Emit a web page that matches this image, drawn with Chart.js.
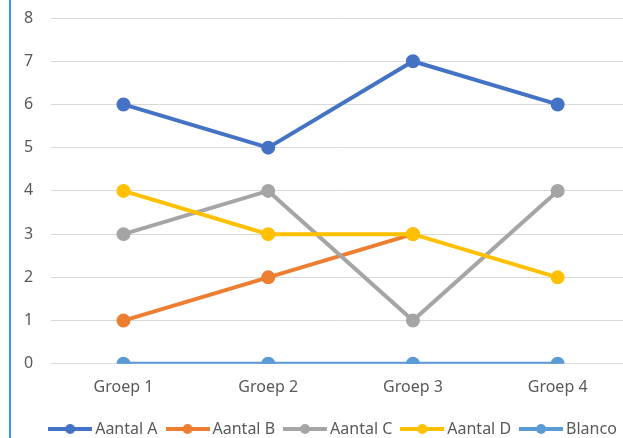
<!DOCTYPE html>
<html>
<head>
<meta charset="utf-8">
<script src="https://cdn.jsdelivr.net/npm/chart.js@4"></script>
<style>
  html, body { margin: 0; padding: 0; background: #fff; }
  #wrap { position: relative; width: 623px; height: 438px; overflow: hidden; background: #fff; }
  #box { position: absolute; left: 0; top: 0; width: 650px; height: 451px; }
  #edge { position: absolute; left: 9px; top: 0; width: 2px; height: 438px; background: #3a9ad9; }
</style>
</head>
<body>
<div id="wrap">
  <div id="box"><canvas id="c" width="650" height="451"></canvas></div>
  <div id="edge"></div>
</div>
<script>
const categories = ["Groep 1", "Groep 2", "Groep 3", "Groep 4"];
const seriesNames = ["Aantal A", "Aantal B", "Aantal C", "Aantal D", "Blanco"];
const aantalA = [6, 5, 7, 6];
const aantalB = [1, 2, 3, null];
const aantalC = [3, 4, 1, 4];
const aantalD = [4, 3, 3, 2];
const blanco = [0, 0, 0, 0];
const yTicks = [0, 1, 2, 3, 4, 5, 6, 7, 8];
const colors = ["#4472C4", "#ED7D31", "#A5A5A5", "#FFC000", "#5B9BD5"];
const seriesValues = [aantalA, aantalB, aantalC, aantalD, blanco];

function markerImage(color) {
  const cv = document.createElement('canvas');
  cv.width = 44; cv.height = 12;
  const g = cv.getContext('2d');
  g.strokeStyle = color; g.lineWidth = 4; g.lineCap = 'butt';
  g.beginPath(); g.moveTo(0, 6); g.lineTo(44, 6); g.stroke();
  g.fillStyle = color;
  g.beginPath(); g.arc(22, 6, 5, 0, Math.PI * 2); g.fill();
  return cv;
}

const datasets = seriesNames.map((name, i) => ({
  label: name,
  data: seriesValues[i],
  borderColor: colors[i],
  backgroundColor: colors[i],
  pointBackgroundColor: colors[i],
  pointBorderColor: colors[i],
  pointRadius: 5,
  pointHoverRadius: 5,
  borderWidth: 4,
  tension: 0,
  spanGaps: false,
  order: seriesNames.length - i,
  pointStyle: 'circle',
  legendImg: markerImage(colors[i])
}));

const legendShift = {
  id: 'legendShift',
  afterLayout(chart) {
    if (chart.legend) { chart.legend.left += 17; chart.legend.right += 17; }
  }
};

new Chart(document.getElementById('c'), {
  type: 'line',
  data: { labels: categories, datasets },
  plugins: [legendShift],
  options: {
    responsive: false,
    animation: false,
    layout: { padding: { left: 6, right: 20, top: 18, bottom: 4 } },
    plugins: {
      tooltip: { enabled: false },
      legend: {
        position: 'bottom',
        labels: {
          usePointStyle: true,
          pointStyleWidth: 34,
          padding: 13,
          color: '#595959',
          font: { family: "'Noto Sans'", size: 16 },
          sort: (a, b) => a.datasetIndex - b.datasetIndex,
          generateLabels: (chart) => chart.data.datasets.map((ds, i) => ({
            text: ds.label,
            datasetIndex: i,
            pointStyle: ds.legendImg,
            fillStyle: ds.borderColor,
            strokeStyle: ds.borderColor,
            lineWidth: 0,
            fontColor: '#595959',
            hidden: false
          }))
        }
      }
    },
    scales: {
      x: {
        offset: true,
        grid: { display: false, drawTicks: false },
        border: { display: false },
        ticks: { padding: 14, color: '#595959', font: { family: "'Noto Sans'", size: 16 } },
        afterFit: (s) => { s.height -= 3; }
      },
      y: {
        min: 0, max: 8,
        afterBuildTicks: (s) => { s.ticks = yTicks.map(v => ({ value: v })); },
        afterFit: (s) => { s.paddingTop = 0; },
        grid: { color: '#d9d9d9', lineWidth: 1, drawTicks: false },
        border: { display: false },
        ticks: { padding: 18, color: '#595959', font: { family: "'Noto Sans'", size: 16 } }
      }
    }
  }
});
</script>
</body>
</html>
